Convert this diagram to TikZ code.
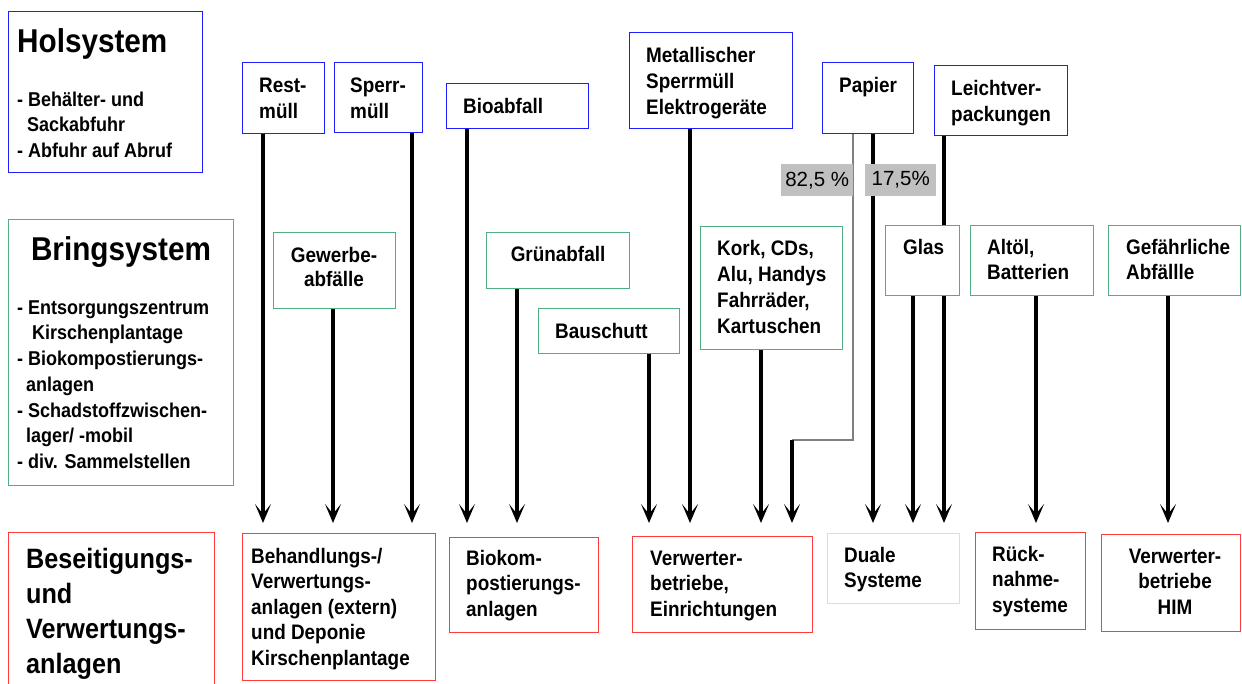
\documentclass[tikz,border=0pt]{standalone}
\usepackage{fontspec}
\setmainfont[FakeStretch=0.9]{Liberation Sans}
\newfontfamily\plainf{Liberation Sans}
\usetikzlibrary{arrows.meta,calc,backgrounds}
\definecolor{hb}{RGB}{30,30,255}
\definecolor{bg}{RGB}{80,175,130}
\definecolor{rr}{RGB}{255,60,60}
\definecolor{yy}{RGB}{250,240,40}
\definecolor{pg}{RGB}{192,192,192}
\newcommand\ts[1]{\rule{0pt}{#1pt}}
\tikzset{
  box/.style={draw, line width=1.4pt, fill=white, inner sep=0pt, anchor=north west},
  hol/.style={box, draw=hb},
  bri/.style={box, draw=bg},
  ziel/.style={box, draw=rr},
  dual/.style={box, draw=yy},
  pct/.style={fill=pg, inner sep=0pt, anchor=north west, font=\plainf\fontsize{20.5}{24}\selectfont},
  lbl/.style={anchor=north west, inner sep=0pt, align=left, font=\bfseries\fontsize{21}{26}\selectfont},
  lblc/.style={lbl, anchor=north, align=center},
  blbl/.style={lbl, font=\bfseries\fontsize{21}{25.5}\selectfont},
  blblc/.style={blbl, anchor=north, align=center},
  big/.style={lbl, font=\bfseries\fontsize{33}{38}\selectfont},
  side/.style={lbl, font=\bfseries\fontsize{20}{25.7}\selectfont},
  flow/.style={line width=3.5pt, -{Stealth[length=19pt,width=16pt,inset=10pt]}},
  gline/.style={line width=1.2pt, draw=black!50}
}
\begin{document}
\begin{tikzpicture}[x=1pt,y=-1pt]
\useasboundingbox (0,0) rectangle (1242,684);
\coordinate (tips) at (0,523);
\coordinate (pk) at (792,440);
% left column
\node[hol, minimum width=194pt, minimum height=161pt] (hols) at (8,11) {};
\node[big] (holsT) at (17,25.6) {\ts{26.4}Holsystem};
\node[side] (holsL) at (17,90) {\ts{16}- Behälter- und\\\hspace*{10pt}Sackabfuhr\\- Abfuhr auf Abruf};
\node[bri, minimum width=225pt, minimum height=266pt] (brs) at (8,219) {};
\node[big, anchor=north] (brsT) at (121,233.6) {\ts{26.4}Bringsystem};
\node[side] (brsL) at (17,298) {\ts{16}- Entsorgungszentrum\\\hspace*{15pt}Kirschenplantage\\- Biokompostierungs-\\\hspace*{9pt}anlagen\\- Schadstoffzwischen-\\\hspace*{9pt}lager/ -mobil\\- div. Sammelstellen};
\node[ziel, minimum width=206pt, minimum height=170pt] (bes) at (8,532) {};
\node[lbl, font=\bfseries\fontsize{28}{35}\selectfont] (besT) at (26,545.6) {\ts{22.4}Beseitigungs-\\und\\Verwertungs-\\anlagen};
% Holsystem boxes
\node[hol, minimum width=82pt, minimum height=71pt] (rest) at (242,62) {};
\node[lbl] (restT) at (259,75.2) {\ts{16.8}Rest-\\müll};
\node[hol, minimum width=88pt, minimum height=70pt] (sperr) at (334,62) {};
\node[lbl] (sperrT) at (350,75.2) {\ts{16.8}Sperr-\\müll};
\node[hol, minimum width=142pt, minimum height=45pt] (bio) at (446,83) {};
\node[lbl] (bioT) at (463,96.2) {\ts{16.8}Bioabfall};
\node[hol, minimum width=163pt, minimum height=96pt] (metall) at (629,32) {};
\node[lbl] (metallT) at (646,45.2) {\ts{16.8}Metallischer\\Sperrmüll\\Elektrogeräte};
\node[hol, minimum width=91pt, minimum height=71pt] (papier) at (822,62) {};
\node[lbl] (papierT) at (839,75.2) {\ts{16.8}Papier};
\node[hol, minimum width=133pt, minimum height=70pt] (leicht) at (934,65) {};
\node[lbl] (leichtT) at (951,78.2) {\ts{16.8}Leichtver-\\packungen};
% Bringsystem boxes
\node[bri, minimum width=122pt, minimum height=76pt] (gew) at (273,232) {};
\node[lblc, font=\bfseries\fontsize{21}{24}\selectfont] (gewT) at (334,245.2) {\ts{16.8}Gewerbe-\\abfälle};
\node[bri, minimum width=143pt, minimum height=56pt] (gruen) at (486,232) {};
\node[lblc] (gruenT) at (558,244.2) {\ts{16.8}Grünabfall};
\node[bri, minimum width=141pt, minimum height=45pt] (bau) at (538,308) {};
\node[lbl] (bauT) at (555,321.2) {\ts{16.8}Bauschutt};
\node[bri, minimum width=142pt, minimum height=123pt] (kork) at (700,226) {};
\node[lbl] (korkT) at (717,238.2) {\ts{16.8}Kork, CDs,\\Alu, Handys\\Fahrräder,\\Kartuschen};
\node[bri, minimum width=74pt, minimum height=70pt] (glas) at (885,225) {};
\node[lbl] (glasT) at (903,237.2) {\ts{16.8}Glas};
\node[bri, minimum width=123pt, minimum height=70pt] (alt) at (970,225) {};
\node[lbl, font=\bfseries\fontsize{21}{25}\selectfont] (altT) at (987,237.2) {\ts{16.8}Altöl,\\Batterien};
\node[bri, minimum width=132pt, minimum height=70pt] (gef) at (1108,225) {};
\node[lbl, font=\bfseries\fontsize{21}{25}\selectfont] (gefT) at (1126,237.2) {\ts{16.8}Gefährliche\\Abfällle};
% percentages
\node[pct, minimum width=72pt, minimum height=32pt] (p82) at (781,164) {82,5 \%};
\node[pct, minimum width=71pt, minimum height=32pt] (p17) at (865,164) {17,5\%};
% target boxes
\node[ziel, minimum width=193pt, minimum height=147pt] (beh) at (242,533) {};
\node[blbl] (behT) at (251,546) {\ts{16.8}Behandlungs-/\\Verwertungs-\\anlagen (extern)\\und Deponie\\Kirschenplantage};
\node[ziel, minimum width=149pt, minimum height=95pt] (bk) at (449,537) {};
\node[blbl] (bkT) at (466,548.2) {\ts{16.8}Biokom-\\postierungs-\\anlagen};
\node[ziel, minimum width=180pt, minimum height=96pt] (verw) at (632,536) {};
\node[blbl] (verwT) at (650,548.2) {\ts{16.8}Verwerter-\\betriebe,\\Einrichtungen};
\node[dual, minimum width=132pt, minimum height=70pt] (duale) at (827,533) {};
\node[blbl] (dualeT) at (844,545.2) {\ts{16.8}Duale\\Systeme};
\node[ziel, minimum width=110pt, minimum height=97pt] (rueck) at (975,532) {};
\node[blbl] (rueckT) at (992,544.2) {\ts{16.8}Rück-\\nahme-\\systeme};
\node[ziel, minimum width=139pt, minimum height=97pt] (him) at (1101,534) {};
\node[blblc] (himT) at (1175,546.2) {\ts{16.8}Verwerter-\\betriebe\\HIM};
% connectors
\begin{scope}[on background layer]
\draw[flow] ($(rest.south west)+(21,0)$) coordinate (c1) -- (c1 |- tips);
\draw[flow] ($(gew.south west)+(60,0)$) coordinate (c2) -- (c2 |- tips);
\draw[flow] ($(sperr.south west)+(78,0)$) coordinate (c3) -- (c3 |- tips);
\draw[flow] ($(bio.south west)+(21,0)$) coordinate (c4) -- (c4 |- tips);
\draw[flow] ($(gruen.south west)+(31,0)$) coordinate (c5) -- (c5 |- tips);
\draw[flow] ($(bau.south west)+(111,0)$) coordinate (c6) -- (c6 |- tips);
\draw[flow] ($(metall.south west)+(61,0)$) coordinate (c7) -- (c7 |- tips);
\draw[flow] ($(kork.south west)+(61,0)$) coordinate (c8) -- (c8 |- tips);
\draw[gline] ($(papier.south west)+(31,0)$) |- (pk);
\draw[flow] (pk) -- (pk |- tips);
\draw[flow] ($(papier.south west)+(51,0)$) coordinate (c9) -- (c9 |- tips);
\draw[flow] ($(glas.south west)+(28,0)$) coordinate (c10) -- (c10 |- tips);
\draw[flow] ($(leicht.south west)+(10,0)$) coordinate (c11) -- (c11 |- tips);
\draw[flow] ($(alt.south west)+(66,0)$) coordinate (c12) -- (c12 |- tips);
\draw[flow] ($(gef.south west)+(60,0)$) coordinate (c13) -- (c13 |- tips);
\end{scope}
\end{tikzpicture}
\end{document}
